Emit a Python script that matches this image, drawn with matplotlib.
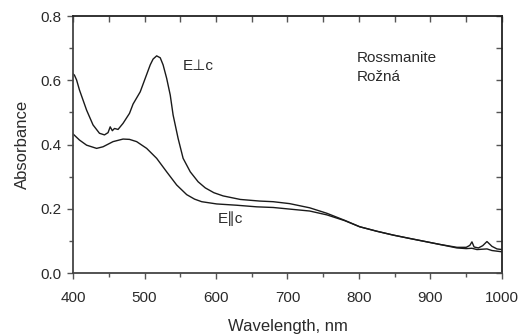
import matplotlib
matplotlib.use("Agg")
import matplotlib.pyplot as plt
from matplotlib.ticker import MultipleLocator, FormatStrFormatter

plt.rcParams['font.family'] = ['Liberation Sans', 'DejaVu Sans']

# E perpendicular c
wl_perp = [400, 402, 405, 409, 419, 428, 437, 444, 449, 452, 455, 458, 463, 470, 479, 484,
           494, 501, 508, 512, 517, 522, 526, 531, 536, 540, 547, 554, 564, 575, 585,
           597, 610, 634, 661, 680, 703, 731, 755, 780, 801, 825, 848, 870, 895, 913,
           937, 950, 955, 958, 961, 967, 973, 979, 986, 993, 1000]
ab_perp = [0.620, 0.616, 0.601, 0.570, 0.507, 0.461, 0.435, 0.430, 0.437, 0.455, 0.443, 0.450,
           0.447, 0.466, 0.497, 0.526, 0.564, 0.606, 0.648, 0.666, 0.676, 0.670, 0.648,
           0.606, 0.554, 0.492, 0.419, 0.357, 0.315, 0.284, 0.265, 0.250, 0.240, 0.229,
           0.224, 0.222, 0.216, 0.203, 0.186, 0.164, 0.144, 0.130, 0.118, 0.108, 0.097,
           0.089, 0.080, 0.080, 0.086, 0.097, 0.081, 0.078, 0.085, 0.098, 0.083, 0.075,
           0.073]

# E parallel c
wl_par = [400, 409, 419, 433, 442, 456, 470, 479, 489, 503, 517, 531, 545, 559, 570, 580,
          601, 629, 657, 680, 703, 731, 755, 780, 801, 825, 848, 870, 895, 913, 937, 950,
          958, 965, 979, 986, 1000]
ab_par = [0.433, 0.414, 0.398, 0.388, 0.393, 0.409, 0.417, 0.416, 0.409, 0.388, 0.357, 0.315,
          0.274, 0.244, 0.230, 0.222, 0.215, 0.211, 0.206, 0.204, 0.199, 0.193, 0.181,
          0.163, 0.144, 0.130, 0.118, 0.108, 0.097, 0.089, 0.078, 0.076, 0.077, 0.073,
          0.075, 0.070, 0.066]

fig = plt.figure(figsize=(5.23, 3.34), dpi=100)
ax = fig.add_axes([0.1396, 0.1826, 0.8202, 0.7694])

line_col = '#1a1a1a'
ax.plot(wl_perp, ab_perp, color=line_col, lw=1.0)
ax.plot(wl_par, ab_par, color=line_col, lw=1.0)

ax.set_xlim(400, 1000)
ax.set_ylim(0.0, 0.8)

txt_col = '#2a2a2a'
tick_col = '#555555'
fs = 11
ax.xaxis.set_major_locator(MultipleLocator(100))
ax.xaxis.set_minor_locator(MultipleLocator(50))
ax.yaxis.set_major_locator(MultipleLocator(0.2))
ax.yaxis.set_minor_locator(MultipleLocator(0.1))
ax.yaxis.set_major_formatter(FormatStrFormatter('%.1f'))
ax.tick_params(axis='x', which='major', direction='out', length=4, width=1,
               labelsize=fs, colors=tick_col, labelcolor=txt_col, pad=9)
ax.tick_params(axis='y', which='major', direction='out', length=4, width=1,
               labelsize=fs, colors=tick_col, labelcolor=txt_col, pad=4)
ax.tick_params(axis='both', which='minor', direction='out', length=3, width=1, colors=tick_col)

for s in ['left', 'bottom']:
    ax.spines[s].set_linewidth(1.3)
    ax.spines[s].set_color('#444444')
for s in ['top', 'right']:
    ax.spines[s].set_linewidth(1.3)
    ax.spines[s].set_color('#222222')

top = ax.secondary_xaxis('top')
top.xaxis.set_major_locator(MultipleLocator(50))
top.tick_params(direction='in', length=4, width=1, labeltop=False, colors=tick_col)
top.spines['top'].set_visible(False)

right = ax.secondary_yaxis('right')
right.yaxis.set_major_locator(MultipleLocator(0.1))
right.tick_params(direction='in', length=4, width=1, labelright=False, colors=tick_col)
right.spines['right'].set_visible(False)

ax.set_xlabel('Wavelength, nm', fontsize=12, color=txt_col, labelpad=10)
ax.set_ylabel('Absorbance', fontsize=12, color=txt_col, labelpad=8)

ax.text(553, 0.645, 'E\u22a5c', fontsize=fs, color=txt_col, va='center')
ax.text(603, 0.170, 'E\u2225c', fontsize=fs, color=txt_col, va='center')
ax.text(797, 0.669, 'Rossmanite', fontsize=fs, color=txt_col, va='center')
ax.text(797, 0.609, 'Ro\u017en\u00e1', fontsize=fs, color=txt_col, va='center')

fig.savefig('out.png', dpi=100)
